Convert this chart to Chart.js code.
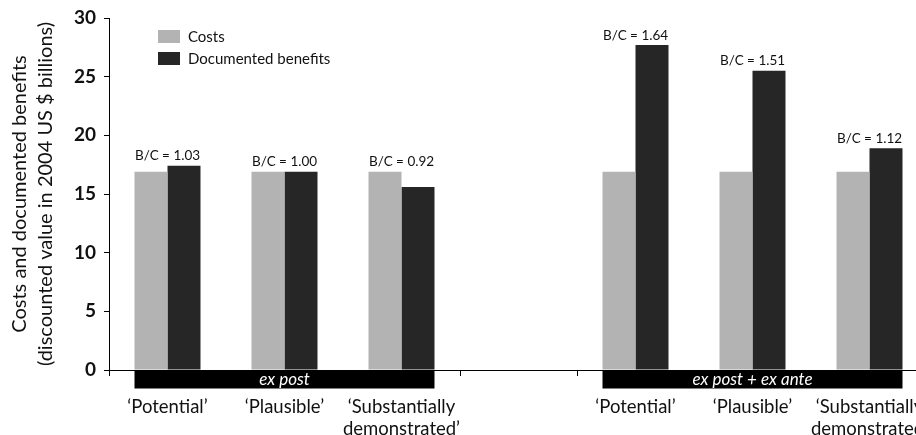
<!DOCTYPE html>
<html>
<head>
<meta charset="utf-8">
<title>Costs and documented benefits</title>
<script src="https://cdn.jsdelivr.net/npm/chart.js@4.4.0/dist/chart.umd.min.js"></script>
<style>
  html, body { margin: 0; padding: 0; background: #fff; overflow: hidden; }
  #wrap { width: 930px; height: 435px; }
</style>
</head>
<body>
<div id="wrap"><canvas id="chart" width="930" height="435"></canvas></div>
<script>
// categories (4th slot is the empty gap between the two groups)
var labels = ['\u2018Potential\u2019', '\u2018Plausible\u2019', ['\u2018Substantially', 'demonstrated\u2019'], '',
              '\u2018Potential\u2019', '\u2018Plausible\u2019', ['\u2018Substantially', 'demonstrated\u2019']];
var costs = [16.9, 16.9, 16.9, null, 16.9, 16.9, 16.9];
var benefits = [17.4, 16.9, 15.6, null, 27.7, 25.5, 18.9];
var ratios = ['1.03', '1.00', '0.92', null, '1.64', '1.51', '1.12'];
var groups = [{ text: 'ex post', from: 0, to: 2 }, { text: 'ex post + ex ante', from: 4, to: 6 }];
var yTicks = [0, 5, 10, 15, 20, 25, 30];

var FONT = 'Lato, "Open Sans", sans-serif';

// B/C labels, black group bands and the legend
var extras = {
  id: 'extras',
  afterDraw: function (chart) {
    var ctx = chart.ctx;
    var area = chart.chartArea;
    var m0 = chart.getDatasetMeta(0), m1 = chart.getDatasetMeta(1);
    var x = chart.scales.x;

    ctx.save();
    ctx.fillStyle = '#111';
    ctx.font = '13.5px ' + FONT;
    ctx.textAlign = 'center';
    ctx.textBaseline = 'bottom';
    ratios.forEach(function (r, i) {
      if (r === null) return;
      var top = Math.min(m0.data[i].y, m1.data[i].y);
      ctx.fillText('B/C = ' + r, x.getPixelForValue(i), top - 3);
    });

    groups.forEach(function (g) {
      var b0 = m0.data[g.from], b1 = m1.data[g.to];
      var left = b0.x - b0.width / 2, right = b1.x + b1.width / 2;
      ctx.fillStyle = '#000';
      ctx.fillRect(left, area.bottom + 0.5, right - left, 18);
      ctx.fillStyle = '#fff';
      ctx.font = 'italic 17px ' + FONT;
      ctx.textBaseline = 'middle';
      ctx.fillText(g.text, (left + right) / 2, area.bottom + 9.5);
    });

    ctx.textAlign = 'left';
    ctx.font = '15px ' + FONT;
    chart.data.datasets.forEach(function (ds, i) {
      var lx = area.left + 49, ly = area.top + 12 + i * 22;
      ctx.fillStyle = ds.backgroundColor;
      ctx.fillRect(lx, ly, 22, 13);
      ctx.fillStyle = '#111';
      ctx.fillText(ds.label, lx + 30, ly + 7);
    });
    ctx.restore();
  }
};

new Chart(document.getElementById('chart'), {
  type: 'bar',
  data: {
    labels: labels,
    datasets: [
      { label: 'Costs', data: costs, backgroundColor: '#b3b3b3' },
      { label: 'Documented benefits', data: benefits, backgroundColor: '#262626' }
    ]
  },
  options: {
    responsive: false,
    animation: false,
    layout: { padding: { top: 18, right: 2, left: 0, bottom: 0 } },
    categoryPercentage: 0.564,
    barPercentage: 1,
    plugins: { legend: { display: false }, tooltip: { enabled: false } },
    scales: {
      x: {
        offset: true,
        grid: { offset: true, drawOnChartArea: false, color: '#000', tickLength: 6 },
        border: { color: '#000', width: 1 },
        ticks: { color: '#111', font: { family: FONT, size: 18.5, lineHeight: 1.2 }, padding: 20, maxRotation: 0, autoSkip: false },
        afterFit: function (s) {
          s.height = 65;
          // the last label runs off the page in the original, so don't shrink the plot for it
          s.paddingLeft = 0;
          s.paddingRight = 0;
        }
      },
      y: {
        min: 0, max: 30,
        afterBuildTicks: function (s) { s.ticks = yTicks.map(function (v) { return { value: v }; }); },
        grid: { drawOnChartArea: false, color: '#000', tickLength: 5 },
        border: { color: '#000', width: 1 },
        ticks: { color: '#111', font: { family: FONT, size: 19, weight: 'bold', lineHeight: 1 }, padding: 8 },
        title: {
          display: true,
          text: ['Costs and documented benefits', '(discounted value in 2004 US $ billions)'],
          color: '#111',
          font: { family: FONT, size: 20, lineHeight: 1.3 },
          padding: { top: 7, bottom: 0 }
        },
        afterFit: function (s) { s.width = 109; }
      }
    }
  },
  plugins: [extras]
});
</script>
</body>
</html>
